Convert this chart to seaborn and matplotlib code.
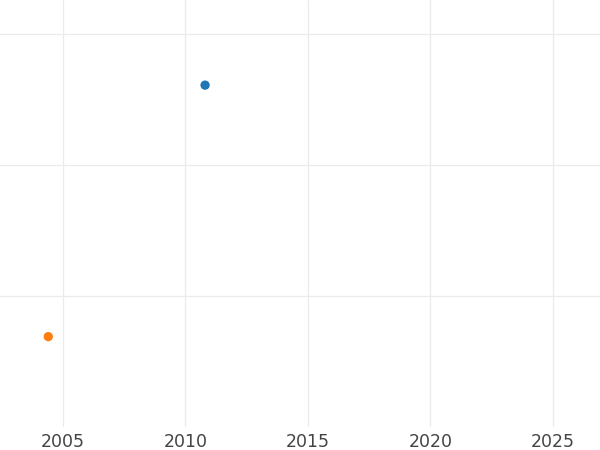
import pandas as pd
import numpy as np
import seaborn as sns
import matplotlib
matplotlib.use("Agg")
import matplotlib.pyplot as plt

# -----------------------------
# Data
# -----------------------------
years = [2010.8, 2004.4]
values = [2.61, 0.69]
series = ["a", "b"]
colors = ["#1f77b4", "#ff7f0e"]
x_ticks = [2005, 2010, 2015, 2020, 2025]
y_ticks = [1, 2, 3]

df = pd.DataFrame({"year": years, "value": values, "series": series})

sns.set_theme(style="whitegrid")
plt.rcParams['font.family'] = ['DejaVu Sans']

fig = plt.figure(figsize=(6, 4.5), dpi=100)
ax = fig.add_axes([0, 1 - 427 / 450, 1, 427 / 450])

sns.scatterplot(data=df, x="year", y="value", hue="series",
                palette=colors, s=45, linewidth=0, legend=False, ax=ax)

ax.set_xlim(2002.43, 2026.92)
ax.set_ylim(0, 3.26)
ax.set_xticks(x_ticks)
ax.set_yticks(y_ticks)
ax.set_yticklabels([])
ax.set_xlabel("")
ax.set_ylabel("")
ax.tick_params(axis="x", labelsize=12.5, labelcolor="#444444", length=0, pad=4)
ax.tick_params(axis="y", length=0)
ax.grid(True, color="#ebebeb", linewidth=0.9)
for s in ax.spines.values():
    s.set_visible(False)

fig.savefig("out.png", dpi=100)
